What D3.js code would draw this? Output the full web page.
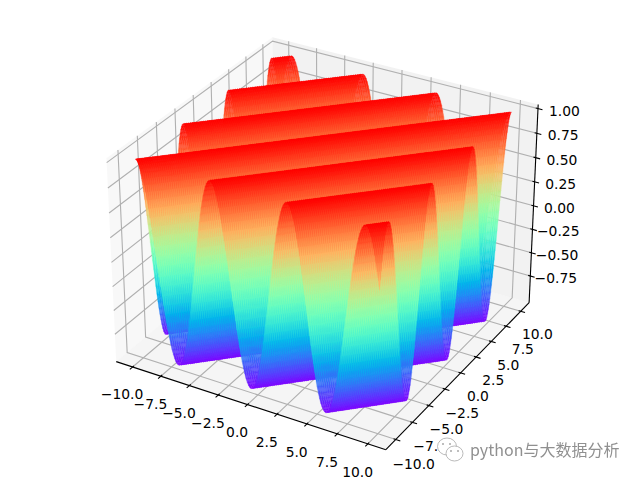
<!DOCTYPE html>
<html><head><meta charset="utf-8">
<style>html,body{margin:0;padding:0;background:#fff}#stage{position:relative;width:640px;height:480px}#stage svg,#stage canvas{position:absolute;left:0;top:0;display:block}text{font-family:"DejaVu Sans";font-size:13.89px;fill:#000}</style>
<script src="https://cdn.jsdelivr.net/npm/d3@7/dist/d3.min.js"></script></head><body>
<div id="stage"></div>
<script>
// ---- chart values ----
const xTickValues = [-10, -7.5, -5, -2.5, 0, 2.5, 5, 7.5, 10];
const yTickValues = [-10, -7.5, -5, -2.5, 0, 2.5, 5, 7.5, 10];
const zTickValues = [-0.75, -0.5, -0.25, 0, 0.25, 0.5, 0.75, 1];
const xLimits = [-11, 11];
const yLimits = [-11, 11];
const zLimits = [-1, 1];
// ridge lines of the surface, as (x - y) offsets
const ridgeOffsets = [-18.85, -12.566, -6.283, 0, 6.283, 12.566, 18.85];
// height of the sheet at a given distance either side of a ridge line
const ridgeDistance = [0,0.1,0.2,0.3,0.4,0.5,0.6,0.7,0.8,0.9,1,1.1,1.2,1.3,1.4,1.5,1.6,1.7,1.8,1.9,2,2.1,2.2,2.3,2.4,2.5,2.6,2.7,2.8,2.9,3,3.1,3.1416];
const ridgeHeight = [1,0.995,0.98,0.955,0.921,0.878,0.825,0.765,0.697,0.622,0.54,0.454,0.362,0.267,0.17,0.071,-0.029,-0.129,-0.227,-0.323,-0.416,-0.505,-0.589,-0.666,-0.737,-0.801,-0.857,-0.904,-0.942,-0.971,-0.99,-0.999,-1];
const watermark = "python与大数据分析";

const W = 640, H = 480;
const stage = d3.select("#stage");
const svg = stage.append("svg").attr("width", W).attr("height", H);
const canvas = stage.append("canvas").attr("width", W).attr("height", H);
const overlay = stage.append("svg").attr("width", W).attr("height", H);
const labelDrop = 5.5;

// ---- scales: data -> 4:4:3 box -> square of the full figure height ----
const boxX = 8 / 7, boxZ = 6 / 7;
const wx = d3.scaleLinear().domain(xLimits).range([0, boxX]);
const wy = d3.scaleLinear().domain(yLimits).range([0, boxX]);
const wz = d3.scaleLinear().domain(zLimits).range([0, boxZ]);
const sx = d3.scaleLinear().domain([-0.095, 0.09]).range([80, 560]);
const sy = d3.scaleLinear().domain([-0.095, 0.09]).range([480, 0]);
const colorNorm = d3.scaleLinear().domain([-1, 1]).range([0, 1]).clamp(true);
const heightAt = d3.scaleLinear().domain(ridgeDistance).range(ridgeHeight).clamp(true);

// ---- camera: elevation 30, azimuth -60, distance 10 ----
const elev = 30 * Math.PI / 180, azim = -60 * Math.PI / 180, dist = 10;
const nv = [Math.cos(elev) * Math.cos(azim), Math.cos(elev) * Math.sin(azim), Math.sin(elev)];
const eye = [boxX / 2 + dist * nv[0], boxX / 2 + dist * nv[1], boxZ / 2 + dist * nv[2]];
const cross = (a, b) => [a[1]*b[2]-a[2]*b[1], a[2]*b[0]-a[0]*b[2], a[0]*b[1]-a[1]*b[0]];
const dot = (a, b) => a[0]*b[0]+a[1]*b[1]+a[2]*b[2];
const unit = a => { const l = Math.sqrt(dot(a, a)); return a.map(v => v / l); };
const uv = unit(cross([0, 0, 1], nv));
const vv = cross(nv, uv);
function depthOf(p) {
  const d = [wx(p[0]) - eye[0], wy(p[1]) - eye[1], wz(p[2]) - eye[2]];
  return -dot(nv, d);
}
function project(p) {
  const d = [wx(p[0]) - eye[0], wy(p[1]) - eye[1], wz(p[2]) - eye[2]];
  const w = -dot(nv, d);
  return [sx(dot(uv, d) / w), sy(dot(vv, d) / w)];
}
const line = d3.line();
const closed = pts => line(pts) + "Z";

// ---- rainbow colour map ----
function rainbow(t) {
  const r = Math.min(1, Math.abs(2 * t - 0.5));
  const g = Math.sin(Math.PI * t);
  const b = Math.cos(Math.PI * t / 2);
  return d3.rgb(r * 255, g * 255, b * 255).formatHex();
}

// ---- box geometry ----
const padX = (xLimits[1] - xLimits[0]) / 48, padY = (yLimits[1] - yLimits[0]) / 48, padZ = (zLimits[1] - zLimits[0]) / 48;
const mins = [xLimits[0] - padX, yLimits[0] - padY, zLimits[0] - padZ];
const maxs = [xLimits[1] + padX, yLimits[1] + padY, zLimits[1] + padZ];
const deltas = [padX * 4, padY * 4, padZ * 4];
const centers = [0, 0, 0];

const panes = [
  { fill: "rgba(242,242,242,0.5)", pts: [[mins[0],mins[1],mins[2]],[mins[0],maxs[1],mins[2]],[mins[0],maxs[1],maxs[2]],[mins[0],mins[1],maxs[2]]] },
  { fill: "rgba(230,230,230,0.5)", pts: [[mins[0],maxs[1],mins[2]],[maxs[0],maxs[1],mins[2]],[maxs[0],maxs[1],maxs[2]],[mins[0],maxs[1],maxs[2]]] },
  { fill: "rgba(236,236,236,0.5)", pts: [[mins[0],mins[1],mins[2]],[maxs[0],mins[1],mins[2]],[maxs[0],maxs[1],mins[2]],[mins[0],maxs[1],mins[2]]] }
];
svg.append("g").selectAll("path").data(panes).join("path")
  .attr("d", d => closed(d.pts.map(project))).attr("fill", d => d.fill);

// ---- axes: grid, line, ticks, labels ----
const axes = [
  { index: 0, ticks: xTickValues, tickdir: 1, sign: 1, edge: [mins[0], mins[1], mins[2]], end: [maxs[0], mins[1], mins[2]] },
  { index: 1, ticks: yTickValues, tickdir: 0, sign: -1, edge: [maxs[0], mins[1], mins[2]], end: [maxs[0], maxs[1], mins[2]] },
  { index: 2, ticks: zTickValues, tickdir: 0, sign: -1, edge: [maxs[0], maxs[1], mins[2]], end: [maxs[0], maxs[1], maxs[2]] }
];
const back = [mins[0], maxs[1], mins[2]];
const front = [maxs[0], mins[1], maxs[2]];
const gridG = svg.append("g").attr("fill", "none").attr("stroke", "#b0b0b0").attr("stroke-width", 1.11);
axes.forEach(a => {
  a.ticks.forEach(t => {
    const mid = back.slice(); mid[a.index] = t;
    const p0 = mid.slice(), p2 = mid.slice();
    p0[(a.index + 1) % 3] = front[(a.index + 1) % 3];
    p2[(a.index + 2) % 3] = front[(a.index + 2) % 3];
    gridG.append("path").attr("d", line([p0, mid, p2].map(project)));
  });
});
const axisG = svg.append("g").attr("fill", "none").attr("stroke", "#000").attr("stroke-width", 1.11);
const labelG = svg.append("g");
const fmt = d3.format(".1f"), fmt2 = d3.format(".2f");
const labelShift = 0.799;
axes.forEach(a => {
  axisG.append("path").attr("d", line([a.edge, a.end].map(project)));
  a.ticks.forEach(t => {
    const pos = a.edge.slice(); pos[a.index] = t;
    const outer = pos.slice(), inner = pos.slice();
    outer[a.tickdir] = a.edge[a.tickdir] - 0.2 * a.sign * deltas[a.tickdir];
    inner[a.tickdir] = a.edge[a.tickdir] + 0.1 * a.sign * deltas[a.tickdir];
    axisG.append("path").attr("d", line([outer, inner].map(project)));
    const lp = pos.slice();
    [0, 1, 2].forEach(i => {
      if (i !== a.index) lp[i] += Math.sign(lp[i] - centers[i]) * labelShift * deltas[i];
    });
    const q = project(lp);
    const s = (a.index === 2 ? fmt2(t) : fmt(t)).replace("-", "\u2212");
    labelG.append("text").attr("x", q[0]).attr("y", q[1] + labelDrop).attr("text-anchor", "middle")
      .attr("dominant-baseline", "central").text(s);
  });
});

// ---- surface facets, far to near ----
const meshX = d3.range(0, 201).map(i => -10 + i * 0.1);
function surfaceZ(x, y) {
  const u = x - y;
  const d = d3.min(ridgeOffsets, c => Math.abs(u - c));
  return heightAt(d);
}
const facets = [];
for (let i = 0; i < meshX.length - 1; i++) {
  for (let j = 0; j < meshX.length - 1; j++) {
    const pts3 = [[meshX[i], meshX[j]], [meshX[i + 1], meshX[j]], [meshX[i + 1], meshX[j + 1]], [meshX[i], meshX[j + 1]]]
      .map(([x, y]) => [x, y, surfaceZ(x, y)]);
    facets.push({
      pts: pts3.map(project),
      depth: d3.mean(pts3, depthOf),
      color: rainbow(colorNorm(d3.mean(pts3, p => p[2])))
    });
  }
}
facets.sort((a, b) => b.depth - a.depth);
const ctx = canvas.node().getContext("2d");
const canvasLine = d3.line().context(ctx);
ctx.lineWidth = 0.25;
facets.forEach(f => {
  ctx.beginPath();
  canvasLine(f.pts);
  ctx.closePath();
  ctx.fillStyle = f.color;
  ctx.strokeStyle = f.color;
  ctx.fill();
  ctx.stroke();
});

// ---- watermark ----
const wm = overlay.append("g");
wm.append("ellipse").attr("cx", 447).attr("cy", 446.5).attr("rx", 9.5).attr("ry", 8.5).attr("fill", "#fff").attr("stroke", "#a8a8a8").attr("stroke-width", 0.8);
wm.append("ellipse").attr("cx", 454.5).attr("cy", 453.5).attr("rx", 8.5).attr("ry", 7.5).attr("fill", "#fff").attr("stroke", "#a8a8a8").attr("stroke-width", 0.8);
wm.append("g").attr("fill", "#a8a8a8").selectAll("circle").data([[443, 444], [450, 444], [451, 451], [458, 451]]).join("circle")
  .attr("cx", d => d[0]).attr("cy", d => d[1]).attr("r", 1);
wm.append("text").attr("x", 470).attr("y", 456).style("font-family", '"Noto Sans CJK SC","DejaVu Sans"').style("font-size", "16px").style("fill", "#909090").text(watermark);
</script></body></html>
